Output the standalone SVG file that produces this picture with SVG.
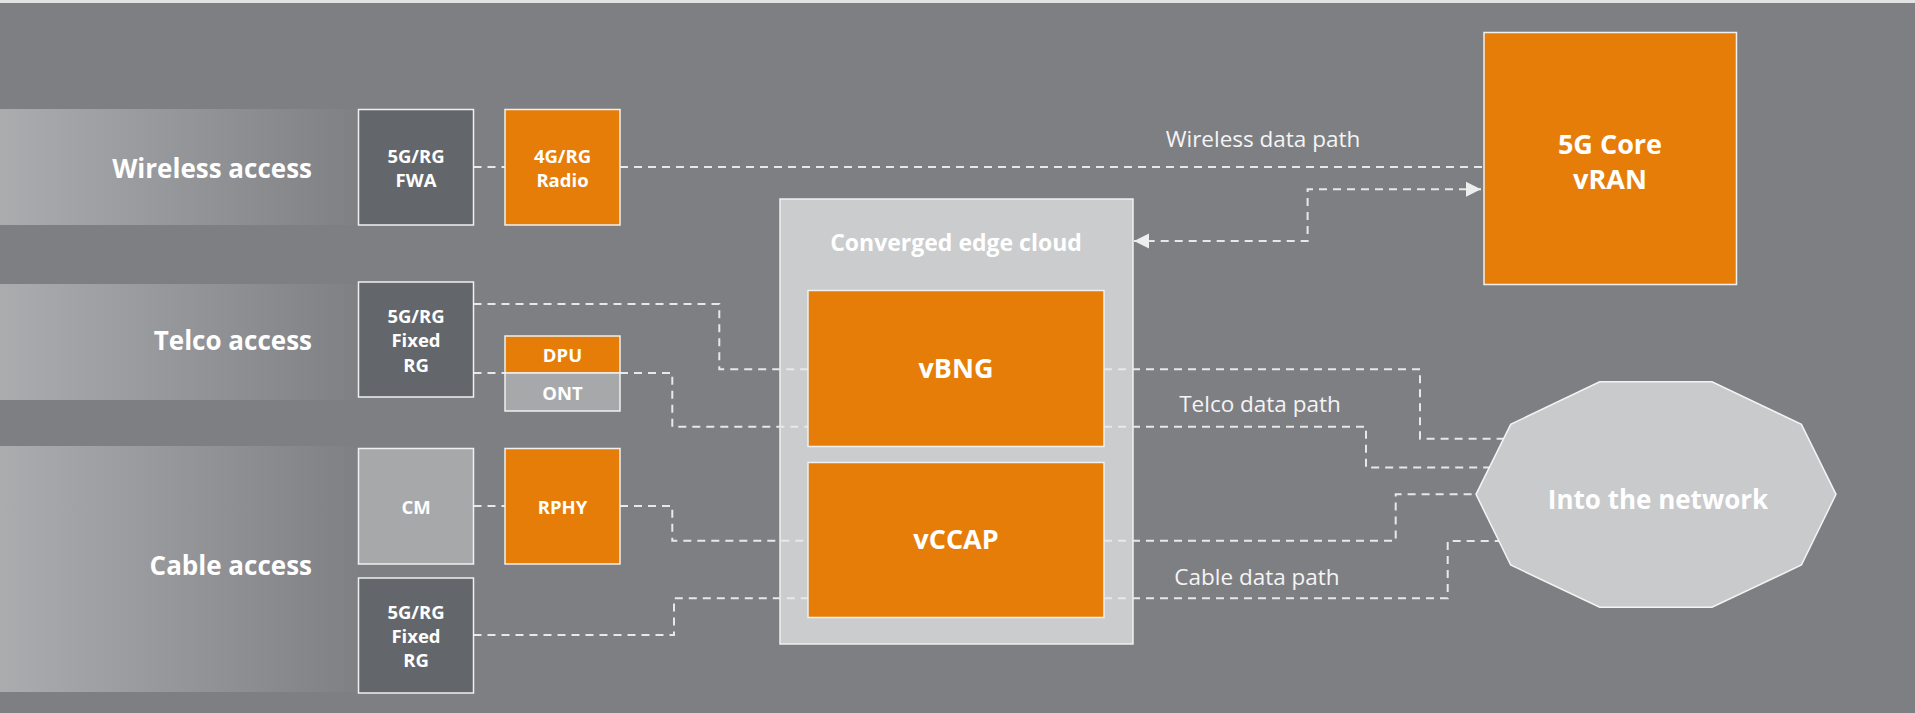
<svg xmlns="http://www.w3.org/2000/svg" width="1915" height="713" viewBox="0 0 1915 713">
<defs>
<linearGradient id="band" x1="0" y1="0" x2="1" y2="0">
<stop offset="0" stop-color="#abacae"/>
<stop offset="1" stop-color="#7f8084"/>
</linearGradient>
<marker id="arr" markerUnits="userSpaceOnUse" markerWidth="16" markerHeight="16" viewBox="0 0 16 16" refX="15" refY="8" orient="auto-start-reverse">
<path d="M0,0.5 L15,8 L0,15.5 Z" fill="#eeeeee"/>
</marker>
<style>
.bg{fill:#7e7f83}
.dark{fill:#63676b;stroke:#f0f0f0;stroke-width:1.5}
.org{fill:#e67d09;stroke:#f0f0f0;stroke-width:1.5}
.lite{fill:#a7a8aa;stroke:#f0f0f0;stroke-width:1.5}
.cloud{fill:#cbcccd;stroke:#f0f0f0;stroke-width:1.5}
.lbl{font-family:"Open Sans","Liberation Sans",sans-serif;font-weight:700;fill:#ffffff;text-anchor:middle}
.big{font-size:26px;text-anchor:end}
.box{font-size:18.5px}
.mid{font-size:27px}
.path{font-family:"Open Sans","Liberation Sans",sans-serif;font-weight:400;font-size:22.5px;fill:#f4f4f4;text-anchor:middle}
.dash{fill:none;stroke:#e8e8e8;stroke-width:2;stroke-dasharray:8 6}
</style>
</defs>
<rect class="bg" x="0" y="0" width="1915" height="713"/>
<rect x="0" y="0" width="1915" height="3" fill="#e2e2e2"/>

<g id="band-wireless"><rect x="0" y="109" width="358" height="116" fill="url(#band)"/><text class="lbl big" x="312" y="178">Wireless access</text></g>
<g id="band-telco"><rect x="0" y="284" width="358" height="116" fill="url(#band)"/><text class="lbl big" x="312" y="350">Telco access</text></g>
<g id="band-cable"><rect x="0" y="446" width="358" height="246" fill="url(#band)"/><text class="lbl big" x="312" y="575">Cable access</text></g>

<g id="cloud"><rect class="cloud" x="780" y="199" width="353" height="445"/><text class="lbl" style="font-size:23px" x="956" y="251">Converged edge cloud</text></g>

<g id="connectors">
<path class="dash" d="M473.5,167 H505"/>
<path class="dash" d="M620,167 H1484"/>
<path class="dash" d="M1481,189.3 H1307.6 V241 H1134" marker-start="url(#arr)" marker-end="url(#arr)"/>
<path class="dash" d="M473.5,304 H719.3 V369.3 H808"/>
<path class="dash" d="M473.5,373 H505"/>
<path class="dash" d="M620,373 H672.3 V426.7 H808"/>
<path class="dash" d="M1104,369.3 H1420 V438.7 H1505"/>
<path class="dash" d="M1104,426.7 H1366 V467.5 H1495"/>
<path class="dash" d="M473.5,506 H505"/>
<path class="dash" d="M620,506 H672.3 V540.7 H808"/>
<path class="dash" d="M473.5,635 H674 V598.3 H808"/>
<path class="dash" d="M1104,540.7 H1395.7 V494.3 H1476"/>
<path class="dash" d="M1104,598.3 H1447.7 V541 H1505"/>
<text class="path" x="1263" y="147">Wireless data path</text>
<text class="path" x="1260" y="412">Telco data path</text>
<text class="path" x="1257" y="585">Cable data path</text>
</g>

<g id="fwa"><rect class="dark" x="358.5" y="109.5" width="115" height="115.5"/><text class="lbl box" x="416" y="163">5G/RG</text><text class="lbl box" x="416" y="187">FWA</text></g>
<g id="radio"><rect class="org" x="505" y="109.5" width="115" height="115.5"/><text class="lbl box" x="562.5" y="163">4G/RG</text><text class="lbl box" x="562.5" y="187">Radio</text></g>
<g id="telco-rg"><rect class="dark" x="358.5" y="282" width="115" height="115"/><text class="lbl box" x="416" y="323">5G/RG</text><text class="lbl box" x="416" y="347">Fixed</text><text class="lbl box" x="416" y="372">RG</text></g>
<g id="dpu"><rect class="org" x="505" y="336" width="115" height="37"/><text class="lbl box" x="562.5" y="362">DPU</text></g>
<g id="ont"><rect class="lite" x="505" y="373" width="115" height="38"/><text class="lbl box" x="562.5" y="400">ONT</text></g>
<g id="cm"><rect class="lite" x="358.5" y="448.5" width="115" height="115.5"/><text class="lbl box" x="416" y="514">CM</text></g>
<g id="rphy"><rect class="org" x="505" y="448.5" width="115" height="115.5"/><text class="lbl box" x="562.5" y="514">RPHY</text></g>
<g id="cable-rg"><rect class="dark" x="358.5" y="578" width="115" height="115"/><text class="lbl box" x="416" y="619">5G/RG</text><text class="lbl box" x="416" y="643">Fixed</text><text class="lbl box" x="416" y="667">RG</text></g>

<g id="vbng"><rect class="org" x="808" y="290.5" width="296" height="156"/><text class="lbl mid" x="956" y="378">vBNG</text></g>
<g id="vccap"><rect class="org" x="808" y="462.5" width="296" height="155"/><text class="lbl mid" x="956" y="549">vCCAP</text></g>

<g id="core"><rect class="org" x="1484" y="32.5" width="252.5" height="252"/><text class="lbl mid" x="1610" y="154">5G Core</text><text class="lbl mid" x="1610" y="189">vRAN</text></g>

<g id="network"><polygon points="1599.7,381.7 1712,381.7 1801.4,424.3 1836,494.3 1801.4,565 1712,607.3 1599.7,607.3 1510.7,565 1476,494.3 1510.7,424.3" fill="#c9cacc" stroke="#f4f4f4" stroke-width="1.5"/><text class="lbl" style="font-size:26px" x="1658" y="509">Into the network</text></g>
</svg>
